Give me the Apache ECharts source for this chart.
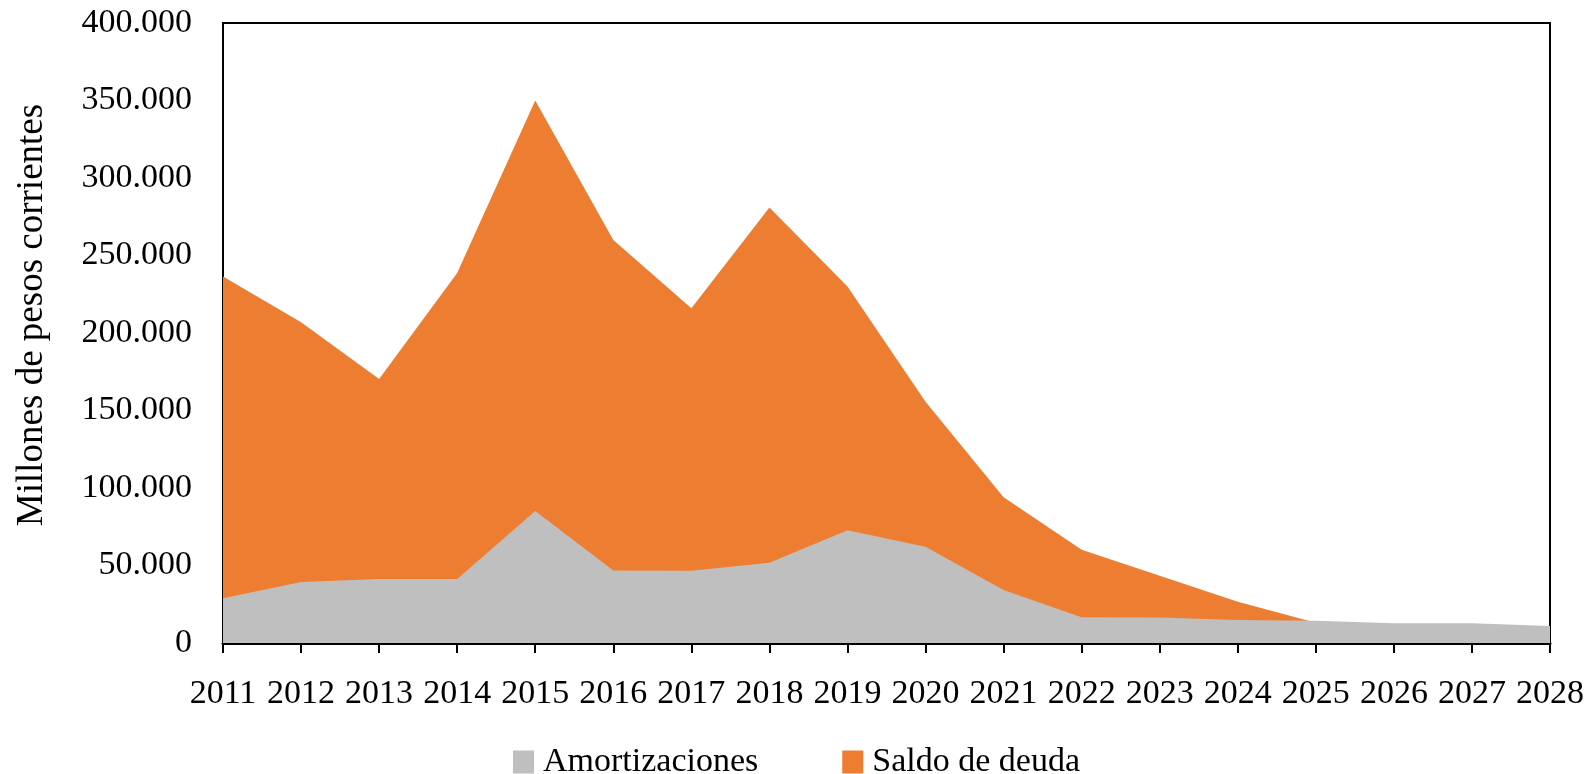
<!DOCTYPE html>
<html>
<head>
<meta charset="utf-8">
<script src="https://cdn.jsdelivr.net/npm/echarts@6/dist/echarts.min.js"></script>
<style>
  html, body { margin: 0; padding: 0; background: #fff; }
  #main { width: 1593px; height: 774px; }
</style>
</head>
<body>
<div id="main"></div>
<script>
var years = ['2011','2012','2013','2014','2015','2016','2017','2018','2019','2020','2021','2022','2023','2024','2025','2026','2027','2028']
// saldo de deuda (millones), sin datos despues de 2025
var saldo = [236500, 207000, 170300, 238700, 350000, 260000, 216000, 281000, 230000, 155700, 94000, 60200, 43400, 26600, 13100, null, null, null]
var amortizaciones = [28800, 39300, 41300, 41300, 85200, 46700, 46600, 51800, 72700, 62100, 34200, 16600, 16500, 14800, 14400, 12700, 12700, 11000]
var yTicks = [0, 50000, 100000, 150000, 200000, 250000, 300000, 350000, 400000]

var fontFam = '"Liberation Serif", "DejaVu Serif", serif'
var fs = 34

function fmtMiles(v){
  return String(v).replace(/\B(?=(\d{3})+(?!\d))/g, '.')
}

var myChart = echarts.init(document.getElementById('main'))

myChart.setOption({
  animation: false,
  textStyle: { fontFamily: fontFam, color: '#000' },
  grid: {
    left: 223, right: 43, top: 23, bottom: 131,
    show: true, borderColor: '#000', borderWidth: 2, backgroundColor: 'transparent'
  },
  legend: {
    top: 740,
    left: 508,
    itemWidth: 21,
    itemHeight: 23,
    itemGap: 84,
    icon: 'rect',
    textStyle: { fontFamily: fontFam, fontSize: fs, color: '#000', padding: [0, 0, 0, 4] },
    data: ['Amortizaciones', 'Saldo de deuda']
  },
  xAxis: {
    type: 'category',
    boundaryGap: false,
    data: years,
    axisLine: { lineStyle: { color: '#000', width: 3 } },
    axisTick: { show: true, interval: 0, length: 10, lineStyle: { color: '#000', width: 2 } },
    axisLabel: { fontFamily: fontFam, fontSize: fs, color: '#000', margin: 34, interval: 0 },
    splitLine: { show: false }
  },
  yAxis: {
    type: 'value',
    min: yTicks[0],
    max: yTicks[yTicks.length - 1],
    interval: 50000,
    name: 'Millones de pesos corrientes',
    nameLocation: 'middle',
    nameGap: 172,
    nameRotate: 90,
    nameTextStyle: { fontFamily: fontFam, fontSize: 37, color: '#000', padding: [0, 0, 0, 36] },
    axisLine: { show: true, lineStyle: { color: '#000', width: 2 } },
    axisTick: { show: false },
    axisLabel: { fontFamily: fontFam, fontSize: fs, color: '#000', margin: 31, formatter: fmtMiles },
    splitLine: { show: false }
  },
  series: [{
    name: 'Saldo de deuda',
    type: 'line',
    data: saldo,
    showSymbol: false,
    color: '#ED7D31',
    lineStyle: { width: 0 },
    areaStyle: { color: '#ED7D31', opacity: 1 }
  }, {
    name: 'Amortizaciones',
    type: 'line',
    data: amortizaciones,
    showSymbol: false,
    color: '#BFBFBF',
    lineStyle: { width: 0 },
    areaStyle: { color: '#BFBFBF', opacity: 1 }
  }]
})
</script>
</body>
</html>
